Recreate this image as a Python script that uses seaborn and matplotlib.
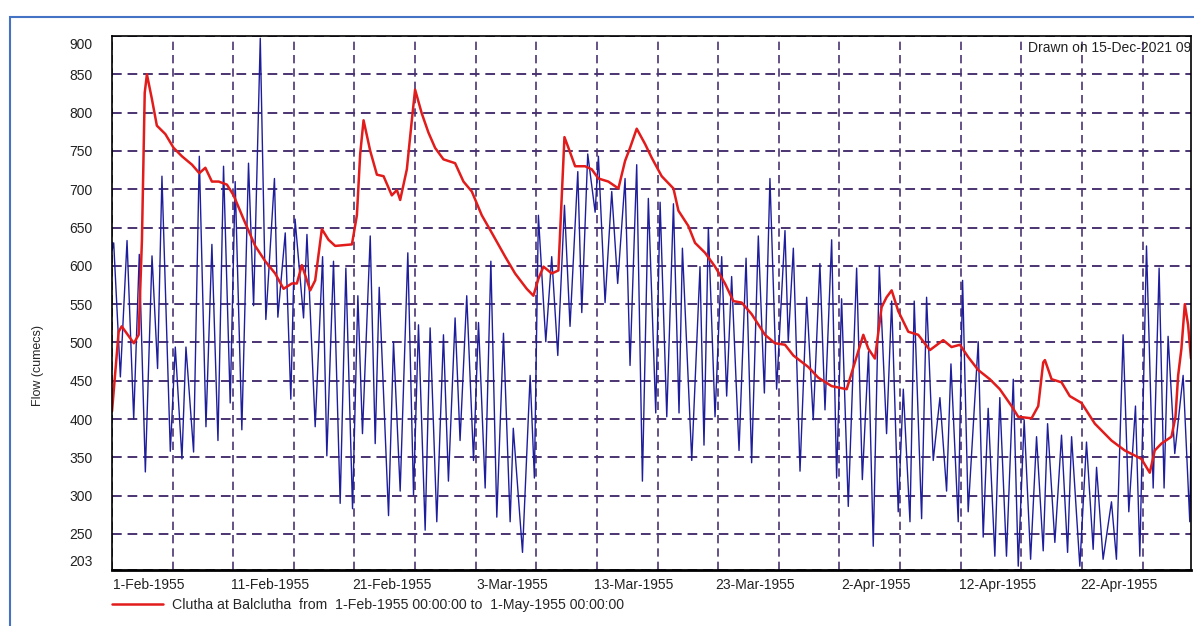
import matplotlib
matplotlib.use("Agg")
import matplotlib.pyplot as plt
from matplotlib.ticker import FixedLocator, FuncFormatter
from matplotlib.transforms import ScaledTranslation
from matplotlib.patches import Rectangle
import matplotlib.dates as mdates
import numpy as np
import pandas as pd
import seaborn as sns

# Series start date; positions are given in days since then
start = pd.Timestamp("1955-02-01")
end = pd.Timestamp("1955-05-01")

# Blue series (turning points)
blue_days = [0.0, 0.14, 0.69, 1.24, 1.79, 2.25, 2.75, 3.3, 3.76, 4.12, 4.81, 5.22, 5.77, 6.1, 6.73, 7.2,
             7.75, 8.24, 8.74, 9.2, 9.75, 10.16, 10.71, 11.26, 11.68, 12.23, 12.69, 13.4, 13.68, 14.29, 14.75,
             15.1, 15.8, 16.08, 16.76, 17.37, 17.72, 18.27, 18.82, 19.29, 19.84, 20.28, 20.66, 21.3, 21.71,
             22.04, 22.81, 23.22, 23.77, 24.4, 24.87, 25.28, 25.83, 26.24, 26.79, 27.34, 27.75, 28.3, 28.71, 29.26,
             29.82, 30.23, 30.78, 31.25, 31.74, 32.29, 32.84, 33.1, 33.86, 34.49, 34.84, 35.17, 35.78, 36.27,
             36.77, 37.32, 37.78, 38.42, 38.75, 39.24, 39.85, 40.12, 40.67, 41.22, 41.71, 42.32, 42.73, 43.28,
             43.75, 44.24,
             44.85, 45.21, 45.76, 46.31, 46.77, 47.05, 47.82, 48.5, 48.83, 49.19, 49.74, 50.29, 50.7, 51.11,
             51.72, 52.3, 52.76, 53.31, 53.81, 54.27, 54.82, 55.51, 55.78, 56.2, 56.75, 57.3, 57.84, 58.39,
             58.81, 59.36,
             59.77, 60.18, 60.73, 61.42, 61.89, 62.4, 62.79, 63.29, 63.89, 64.31, 64.85, 65.27, 65.82, 66.17,
             66.78, 67.19, 67.74, 68.29, 68.84, 69.2, 69.8, 70.16, 70.62, 71.45, 71.86, 72.27, 72.82, 73.23, 73.78,
             74.34, 74.75, 75.24, 75.77, 76.26, 76.81, 77.17, 77.77, 78.32, 78.82, 79.15, 79.83, 80.38, 80.93,
             81.21, 81.75, 82.44, 82.85, 83.4, 83.87, 84.42, 84.78, 85.33, 85.88, 86.37, 86.78, 87.11, 87.66,
             88.35, 88.9, 89.0]
blue_flow = [620, 630, 455, 633, 400, 615, 331, 613, 466, 717, 358, 494, 348, 494, 357, 743,
             390, 628, 372, 730, 421, 710, 386, 734, 548, 897, 530, 714, 533, 643, 426,
             661, 532, 641, 390, 612, 352, 606, 290, 597, 283, 561, 381, 639, 368,
             572, 274, 501, 306, 617, 301, 523, 255, 519, 266, 510, 319, 532, 372, 561,
             346, 526, 310, 606, 272, 512, 266, 388, 226, 457, 323, 666, 501, 612,
             483, 679, 521, 723, 539, 746, 670, 743, 552, 697, 577, 714, 470, 732,
             319, 688,
             408, 683, 403, 681, 408, 623, 346, 599, 366, 650, 403, 612, 430, 586,
             359, 610, 343, 639, 434, 714, 439, 646, 501, 623, 332, 559, 399, 603,
             412, 634,
             323, 557, 286, 597, 321, 488, 234, 599, 381, 554, 279, 439, 266, 554,
             270, 559, 346, 428, 306, 472, 266, 581, 279, 501, 246, 414, 221, 428, 221,
             452, 208, 399, 217, 377, 228, 394, 239, 379, 226, 377, 208, 370, 230,
             337, 217, 292, 217, 510, 279, 417, 221, 626, 310, 597, 310, 508, 355,
             457, 266, 368]

# Red series: Clutha at Balclutha
red_days = [0.0, 0.55, 0.8, 1.8, 2.2, 2.47, 2.7, 2.88, 3.3, 3.7, 4.4, 5.08, 5.77, 6.6, 7.2, 7.7, 8.24,
            8.8, 9.48, 10.03, 10.85, 11.81, 12.64, 13.46, 14.15, 14.84,
            15.25, 15.66, 16.35, 16.76, 17.31, 17.86, 18.41, 19.79, 20.2, 20.47, 20.75, 21.3, 21.85, 22.4,
            23.08, 23.5, 23.77, 24.32, 24.73, 25.0, 25.55, 26.1, 26.65, 27.34, 28.3, 28.99, 29.68,
            30.5, 31.33, 32.43, 33.25, 34.21, 34.76, 35.17, 35.59, 36.27, 36.82, 37.04, 37.32, 37.65, 38.2,
            39.02, 39.57, 40.12, 40.94, 41.77, 42.32, 42.73, 43.28, 43.97, 44.52,
            45.34, 46.31, 46.72, 47.54, 48.09, 48.92, 49.74, 50.56, 51.25, 51.94, 52.76, 53.86, 54.68, 55.51,
            56.2, 57.43, 58.26, 59.36,
            60.6, 61.28, 61.97, 62.38, 62.93, 63.48, 63.89, 64.31, 64.85, 65.68, 66.5, 67.46, 68.56, 69.25,
            69.94, 70.62, 71.45, 72.41, 73.23, 74.2,
            74.75, 75.85, 76.4, 76.81, 76.95, 77.5, 78.32, 79.0, 79.97, 81.07, 82.44, 83.54, 84.91, 85.6,
            86.01, 86.56, 87.39, 87.72, 87.94, 88.21, 88.49, 88.76, 89.0]
red_flow = [410, 514, 521, 499, 510, 634, 826, 850, 817, 783, 772, 754, 743, 732, 721, 728, 710,
            710, 706, 692, 661, 626, 606, 590, 570, 577,
            577, 601, 568, 581, 648, 634, 626, 628, 666, 746, 790, 750, 719, 717,
            692, 699, 686, 726, 790, 830, 799, 774, 754, 739, 734, 710, 697,
            666, 643, 612, 590, 570, 561, 583, 599, 590, 594, 670, 768, 754, 730,
            730, 726, 714, 710, 701, 737, 754, 779, 759, 741,
            717, 701, 672, 652, 630, 617, 599, 577, 554, 552, 537, 510, 499, 497,
            483, 468, 454, 443,
            439, 474, 510, 492, 479, 546, 559, 568, 541, 514, 510, 490, 503, 494,
            497, 481, 464, 452, 439, 417,
            403, 401, 417, 474, 477, 452, 448, 430, 421, 394, 372, 359, 348, 330,
            359, 368, 377, 403, 457, 492, 550, 523, 479]

y_ticks = [203, 250, 300, 350, 400, 450, 500, 550, 600, 650, 700, 750, 800, 850, 900]
x_label_dates = pd.date_range("1955-02-01", periods=9, freq="10D")
x_grid_dates = pd.date_range("1955-02-06", periods=9, freq="10D")
legend_text = "Clutha at Balclutha  from  1-Feb-1955 00:00:00 to  1-May-1955 00:00:00"

blue_t = start + pd.to_timedelta(np.array(blue_days), unit="D")
red_t = start + pd.to_timedelta(np.array(red_days), unit="D")

sns.set_style("white")
plt.rcParams["font.family"] = ["Liberation Sans", "DejaVu Sans"]

W, H = 1194, 626
fig = plt.figure(figsize=(W / 100, H / 100), dpi=100)
ax = fig.add_axes([112 / W, 1 - 570 / H, (1191 - 112) / W, (570 - 36) / H])

sns.lineplot(x=blue_t, y=blue_flow, ax=ax, color="#1e1e9c", lw=1.0, legend=False)
sns.lineplot(x=red_t, y=red_flow, ax=ax, color="#e21b1b", lw=1.8, label=legend_text)

ax.set_xlim(start, end)
ax.set_ylim(203, 900)
ax.set_xlabel("")
ax.set_ylabel("")

ax.xaxis.set_major_locator(FixedLocator(mdates.date2num(x_label_dates)))
ax.xaxis.set_minor_locator(FixedLocator(mdates.date2num(x_grid_dates)))
ax.xaxis.set_major_formatter(FuncFormatter(
    lambda v, p: (lambda d: f"{d.day}-{d.strftime('%b-%Y')}")(mdates.num2date(v))))
ax.set_yticks(y_ticks)

grid_col = "#4a3472"
ax.grid(True, which="both", axis="x", color=grid_col, ls=(0, (5, 3)), lw=1.2)
ax.grid(True, which="major", axis="y", color=grid_col, ls=(0, (5, 3)), lw=1.4)
ax.set_axisbelow(True)

ax.tick_params(axis="both", which="both", length=0, labelsize=10, colors="#222222")
ax.tick_params(axis="y", pad=14)
ax.tick_params(axis="x", pad=6)

for s in ax.spines.values():
    s.set_color("black")
    s.set_linewidth(1.2)
ax.spines["bottom"].set_linewidth(2.0)

fig.text(38 / W, 1 - 366 / H, "Flow (cumecs)", rotation=90, ha="center", va="center", fontsize=9)

drawn = ax.text((1028 - 112) / 1079, 1 - 12 / 534, "Drawn on 15-Dec-2021 09",
                transform=ax.transAxes, ha="left", va="center", fontsize=10, color="#222222")
drawn.set_clip_box(ax.bbox)
drawn.set_clip_on(True)

ax.legend(loc="upper left", bbox_to_anchor=(112 / W, 1 - 598 / H), bbox_transform=fig.transFigure,
          frameon=False, fontsize=10.2, handlelength=3.6, handletextpad=0.6, borderpad=0,
          borderaxespad=0)

fig.patches.append(Rectangle((10 / W, -0.1), 1.2, 1 - 17 / H + 0.1, transform=fig.transFigure,
                             fill=False, edgecolor="#4472c4", lw=1.5))

# draw once so tick objects hold their final labels, then nudge labels as in the original
fig.canvas.draw()
for t in ax.xaxis.get_major_ticks():
    t.label1.set_transform(t.label1.get_transform() + ScaledTranslation(0.37, 0, fig.dpi_scale_trans))
for t in ax.yaxis.get_major_ticks():
    txt = t.label1.get_text()
    if txt == "900":
        t.label1.set_transform(t.label1.get_transform() + ScaledTranslation(0, -0.08, fig.dpi_scale_trans))
    elif txt == "203":
        t.label1.set_transform(t.label1.get_transform() + ScaledTranslation(0, 0.10, fig.dpi_scale_trans))

fig.savefig("out.png", dpi=100)
